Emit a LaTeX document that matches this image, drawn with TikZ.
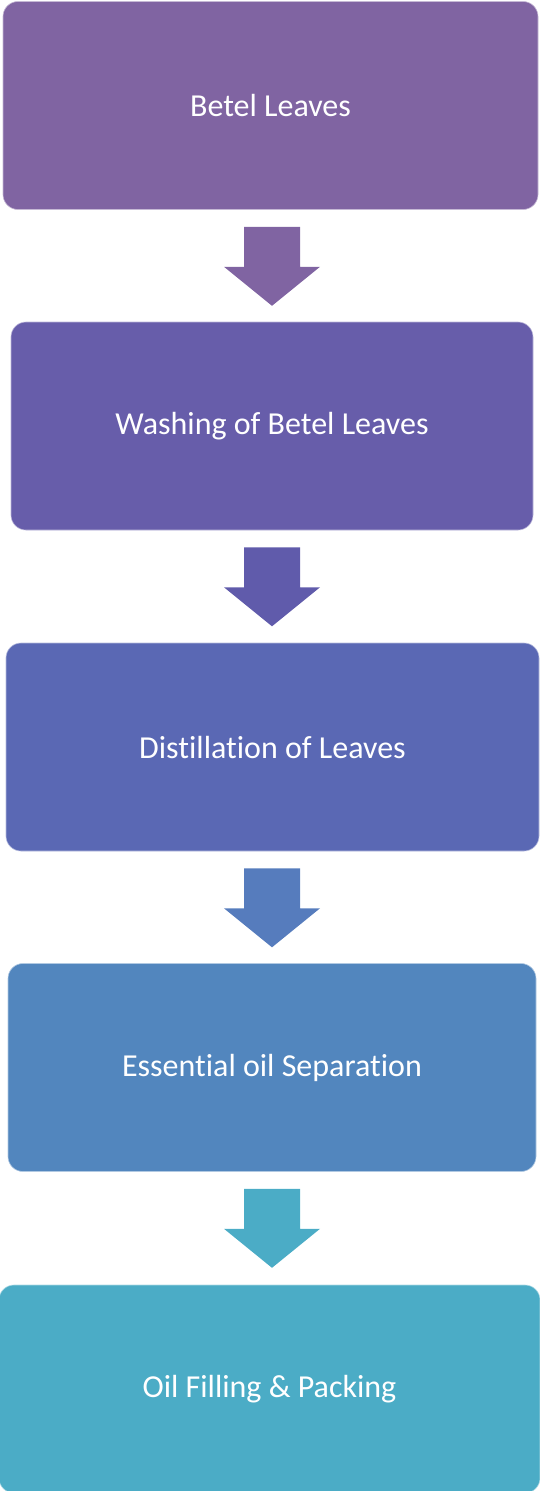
\documentclass[tikz,border=0pt]{standalone}
\usepackage{fontspec}
\setmainfont[Ligatures=NoCommon]{Carlito}
\usepackage{xcolor}
\usepackage{tikz}
\usetikzlibrary{calc}

\definecolor{leafA}{HTML}{8064A2}
\definecolor{leafB}{HTML}{675DAA}
\definecolor{leafC}{HTML}{5A68B4}
\definecolor{leafD}{HTML}{5286BE}
\definecolor{leafE}{HTML}{4BACC6}
\definecolor{arrowB}{HTML}{605BAB}
\definecolor{arrowC}{HTML}{567CBD}

\tikzset{
  stepbox/.style={rectangle, rounded corners=15pt, fill=#1, draw=white!55!#1,
    line width=0.6pt, minimum height=208pt, text=white,
    font=\fontsize{32}{38}\selectfont},
  blockarrow/.style={fill=#1}
}

\begin{document}
\begin{tikzpicture}[x=1pt,y=-1pt]
    \useasboundingbox (0,0) rectangle (539,1491);
    \coordinate (axis) at (272,0);
    % process steps
    \node[stepbox=leafA, minimum width=535pt] (leaves) at (270.5,105.5) {Betel Leaves};
    \node[stepbox=leafB, minimum width=522pt] (washing) at (272,426) {Washing of Betel Leaves};
    \node[stepbox=leafC, minimum width=533pt] (distill) at (272.5,747) {Distillation of Leaves};
    \node[stepbox=leafD, minimum width=528pt] (separate) at (272,1067.5) {Essential oil Separation};
    \node[stepbox=leafE, minimum width=541pt] (packing) at (269.5,1389) {Oil Filling \& Packing};
    % block arrows between steps
    \foreach \from/\col in {leaves/leafA,washing/arrowB,distill/arrowC,separate/leafE}
      \fill[blockarrow=\col, shift={(\from.south -| axis)}]
        (-28,17) -- (28,17) -- (28,57) -- (48,57) -- (0,96) -- (-48,57) -- (-28,57) -- cycle;
  \end{tikzpicture}
\end{document}
